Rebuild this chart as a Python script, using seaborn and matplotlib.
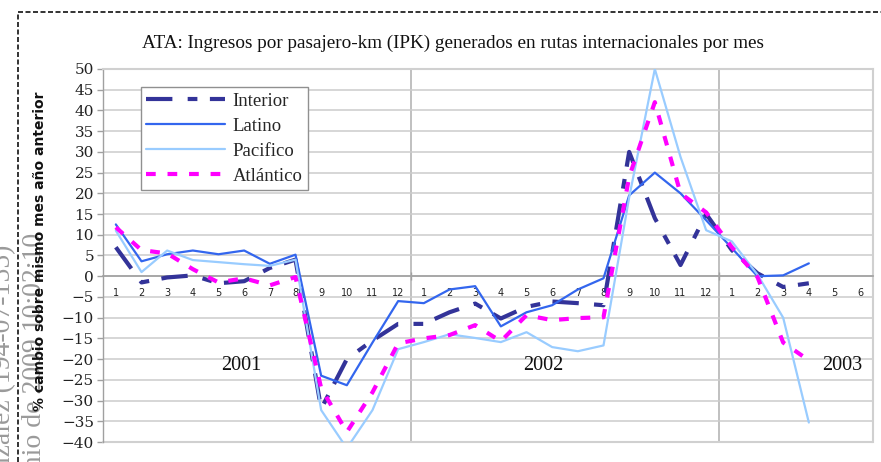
import numpy as np
import pandas as pd
import matplotlib
matplotlib.use("Agg")
import matplotlib.pyplot as plt
import seaborn as sns
from matplotlib.lines import Line2D
from matplotlib.font_manager import FontProperties

# ---------------- data ----------------
title = "ATA: Ingresos por pasajero-km (IPK) generados en rutas internacionales por mes"
month_labels = [str(m) for m in range(1, 13)] * 2 + [str(m) for m in range(1, 7)]
years = ["2001", "2002", "2003"]
y_label = "% cambio sobre mismo mes año anterior"
series_names = ["Interior", "Latino", "Pacifico", "Atlántico"]

interior = [7.0, -1.5, -0.3, 0.2, -1.7, -1.2, 2.0, 4.0, -32.0, -20.0, -15.5, -11.5,
            -11.5, -8.7, -6.6, -10.2, -7.4, -6.1, -6.5, -7.0, 30.0, 14.0, 2.7, 15.0,
            6.3, 0.7, -2.6, -1.7]
latino = [12.5, 3.6, 5.3, 6.2, 5.3, 6.2, 3.0, 5.2, -24.0, -26.3, -16.0, -6.0,
          -6.5, -3.2, -2.4, -12.1, -8.7, -7.0, -3.2, -0.5, 19.5, 25.0, 20.0, 13.5,
          6.8, 0.0, 0.2, 3.1]
pacifico = [11.0, 1.0, 6.2, 3.9, 3.4, 2.9, 2.5, 4.0, -32.3, -41.5, -32.3, -17.6,
            -15.9, -14.0, -14.9, -15.9, -13.5, -17.1, -18.1, -16.7, 19.0, 50.0, 28.8, 11.1,
            8.4, 0.4, -10.0, -35.3]
atlantico = [11.8, 6.3, 5.5, 1.7, -1.5, -0.5, -2.2, -0.2, -27.0, -37.6, -28.0, -16.2,
             -15.0, -14.2, -11.8, -15.7, -9.4, -10.6, -10.1, -9.9, 24.0, 42.0, 20.0, 15.4,
             7.0, -0.2, -16.0, -20.3]

# ---------------- style ----------------
sns.set_theme(style="white")
plt.rcParams["font.family"] = ["DejaVu Sans"]
plt.rcParams["lines.scale_dashes"] = False

fig = plt.figure(figsize=(8.81, 4.62), dpi=100)
ax = fig.add_axes([103 / 881, 20 / 462, 770 / 881, 373 / 462])

idx = np.arange(len(interior))
df = pd.DataFrame({"idx": idx, "Interior": interior, "Latino": latino,
                   "Pacifico": pacifico, "Atlántico": atlantico})

styles = {
    "Interior": dict(color="#333399", linewidth=3.0, linestyle=(0, (19, 11, 7, 9))),
    "Latino": dict(color="#3366ee", linewidth=1.6, linestyle="-"),
    "Pacifico": dict(color="#99ccff", linewidth=1.6, linestyle="-"),
    "Atlántico": dict(color="#ff00ff", linewidth=3.0, linestyle=(0, (7, 8.5))),
}

ax.yaxis.grid(True, color="#cccccc", linewidth=1.1)
ax.xaxis.grid(False)
for xb in (11.5, 23.5):
    ax.axvline(xb, color="#b5b5b5", linewidth=1.2, zorder=0.5)

for i, name in enumerate(series_names):
    sns.lineplot(data=df, x="idx", y=name, ax=ax, label=name, estimator=None,
                 errorbar=None, zorder=3 + i, **styles[name])

ax.set_xlim(-0.5, 29.5)
ax.set_ylim(-40, 50)
ax.set_xlabel("")
ax.set_ylabel("")

ax.set_yticks(range(-40, 51, 5))
ax.tick_params(axis="y", left=True, length=4, width=1, color="#a0a0a0",
               labelsize=11, pad=2.5, labelcolor="#222222")
for lab in ax.get_yticklabels():
    lab.set_fontfamily("DejaVu Serif")

ax.set_xticks(np.arange(30))
ax.set_xticklabels(month_labels)
ax.set_xticks([11.5, 23.5], minor=True)
ax.tick_params(axis="x", which="major", bottom=True, length=0, labelsize=7,
               pad=8.5, labelcolor="#222222")
ax.tick_params(axis="x", which="minor", bottom=True, length=6, width=1,
               direction="inout", color="#a0a0a0")
for lab in ax.get_xticklabels():
    lab.set_fontfamily("DejaVu Serif")

ax.spines["bottom"].set_position(("data", 0))
ax.spines["bottom"].set_color("#a0a0a0")
ax.spines["bottom"].set_linewidth(1.2)
ax.spines["left"].set_color("#a0a0a0")
ax.spines["left"].set_linewidth(1.0)
for s in ("top", "right"):
    ax.spines[s].set_color("#d0d0d0")
    ax.spines[s].set_linewidth(1.5)
ax.axhline(-40, color="#d0d0d0", linewidth=1.5, clip_on=False, zorder=1)

serif = "Liberation Serif"
for yx, yr in zip((4.87, 16.67, 28.3), years):
    ax.text(yx, -21.5, yr, ha="center", va="center", fontsize=14.5,
            family=serif, color="#111111")

leg = ax.legend(loc="upper left", bbox_to_anchor=(0.049, 0.952),
                prop=FontProperties(family=serif, size=13.5),
                frameon=True, fancybox=False, framealpha=1, edgecolor="#909090",
                handlelength=4.2, handletextpad=0.4, labelspacing=0.42,
                borderpad=0.3, borderaxespad=0)
leg.get_frame().set_linewidth(1.0)

fig.text(0.514, 1 - 43 / 462, title, ha="center", va="center", fontsize=13.8,
         family=serif, color="#111111")

# watermark texts (behind the axis title)
fig.text(35 / 881, 1 - 233 / 462, "Junio de 2009 10:02:10", rotation=90,
         ha="center", va="top", fontsize=20, family=serif, color="#9a9a9a")
fig.text(4 / 881, 1 - 245 / 462, "González (194-07-155)", rotation=90,
         ha="center", va="top", fontsize=20, family=serif, color="#9a9a9a")

fig.text(40 / 881, 1 - 251 / 462, y_label, rotation=90, ha="center", va="center",
         fontsize=10, fontweight="bold", family="DejaVu Sans", color="#111111")

# dashed page border
fig.add_artist(Line2D([18 / 881, 1], [1 - 12 / 462, 1 - 12 / 462],
                      transform=fig.transFigure, color="#111111", linewidth=1.2,
                      linestyle=(0, (3.6, 1.8))))
fig.add_artist(Line2D([18 / 881, 18 / 881], [0, 1 - 12 / 462],
                      transform=fig.transFigure, color="#111111", linewidth=1.2,
                      linestyle=(0, (3.6, 1.8))))

fig.savefig("out.png", dpi=100)
